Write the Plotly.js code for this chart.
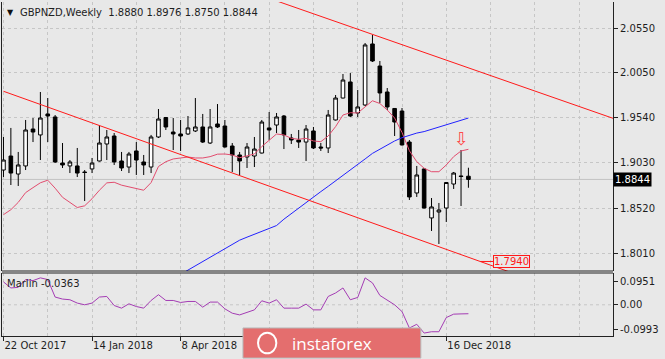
<!DOCTYPE html>
<html><head><meta charset="utf-8">
<script src="https://cdn.plot.ly/plotly-3.0.1.min.js"></script>
<style>html,body{margin:0;padding:0;background:#e8e8e8;}#chart{width:665px;height:359px;}</style>
</head><body><div id="chart"></div>
<script>
const symbol = "GBPNZD";
const period = "Weekly";

// weekly candles, week 0 = 22 Oct 2017
const opens  = [1.8950,1.9108,1.8905,1.8996,1.9413,1.9346,1.9583,1.9549,1.9029,1.8996,
                1.8996,1.8928,1.8962,1.9052,1.9244,1.9334,1.9052,1.8984,1.9165,1.9041,
                1.8984,1.9323,1.9543,1.9379,1.9357,1.9357,1.9391,1.9436,1.9255,1.9470,
                1.9447,1.9221,1.9120,1.9097,1.9108,1.9142,1.9425,1.9458,1.9560,1.9312,
                1.9289,1.9266,1.9391,1.9210,1.9199,1.9515,1.9763,1.9944,1.9594,1.9684,
                2.0373,2.0124,1.9831,1.9645,1.9616,1.9266,1.8691,1.8962,1.8409,1.8476,
                1.8521,1.8792,1.8883,1.8880];
const highs  = [1.9323,1.9425,1.9154,1.9515,1.9537,1.9831,1.9763,1.9571,1.9255,1.9063,
                1.9199,1.8950,1.9086,1.9458,1.9402,1.9368,1.9154,1.9154,1.9266,1.9120,
                1.9346,1.9639,1.9549,1.9537,1.9515,1.9560,1.9763,1.9583,1.9639,1.9695,
                1.9515,1.9255,1.9154,1.9255,1.9323,1.9515,1.9605,1.9594,1.9571,1.9357,
                1.9402,1.9458,1.9436,1.9255,1.9628,1.9797,2.0034,2.0045,1.9854,2.0384,
                2.0474,2.0181,1.9876,1.9650,1.9650,1.9289,1.8996,1.8973,1.8634,1.8578,
                1.8815,1.8928,1.9176,1.8976];
const lows   = [1.8871,1.8781,1.8770,1.8950,1.9266,1.9063,1.9266,1.9029,1.8973,1.8916,
                1.8871,1.8600,1.8916,1.9046,1.9063,1.9007,1.8939,1.8916,1.8894,1.8894,
                1.8916,1.9312,1.9402,1.9176,1.9165,1.9346,1.9379,1.9255,1.9244,1.9425,
                1.9204,1.8928,1.8894,1.8973,1.8984,1.9137,1.9289,1.9368,1.9187,1.9244,
                1.9199,1.9052,1.9187,1.9165,1.9142,1.9509,1.9758,1.9549,1.9549,1.9673,
                2.0170,1.9707,1.9628,1.9334,1.9227,1.8612,1.8646,1.8516,1.8262,1.8115,
                1.8363,1.8736,1.8544,1.8750];
const closes = [1.9063,1.8916,1.9007,1.9402,1.9379,1.9537,1.9560,1.9041,1.9007,1.9041,
                1.8916,1.8922,1.9029,1.9255,1.9323,1.9041,1.8973,1.9131,1.9063,1.9007,
                1.9323,1.9526,1.9436,1.9357,1.9334,1.9425,1.9436,1.9266,1.9436,1.9436,
                1.9210,1.9120,1.9052,1.9210,1.9187,1.9492,1.9402,1.9549,1.9346,1.9289,
                1.9266,1.9413,1.9199,1.9199,1.9571,1.9763,1.9966,1.9560,1.9662,2.0362,
                2.0181,1.9820,1.9662,1.9492,1.9233,1.8646,1.8894,1.8521,1.8533,1.8499,
                1.8809,1.8916,1.8877,1.8844];

// fast moving average (pink)
const maFast = [1.8446,1.8502,1.8585,1.8695,1.8751,1.8806,1.8835,1.8745,1.8642,1.8582,
                1.8527,1.8546,1.8626,1.8722,1.8805,1.8812,1.8779,1.8760,1.8743,1.8722,
                1.8808,1.8990,1.9044,1.9075,1.9086,1.9097,1.9086,1.9086,1.9101,1.9129,
                1.9131,1.9120,1.9089,1.9108,1.9131,1.9215,1.9289,1.9357,1.9346,1.9308,
                1.9297,1.9308,1.9278,1.9270,1.9334,1.9440,1.9571,1.9597,1.9594,1.9664,
                1.9732,1.9701,1.9628,1.9537,1.9374,1.9168,1.9044,1.8970,1.8931,1.8931,
                1.9007,1.9101,1.9165,1.9184];
// slow moving average (blue), starts at week 24
const maSlowStart = 24;
const maSlow = [1.7772,1.7821,1.7869,1.7916,1.7965,1.8013,1.8062,1.8110,1.8158,1.8192,
                1.8224,1.8257,1.8290,1.8323,1.8395,1.8459,1.8520,1.8581,1.8644,1.8706,
                1.8766,1.8826,1.8886,1.8949,1.9011,1.9075,1.9138,1.9187,1.9233,1.9278,
                1.9315,1.9341,1.9367,1.9384,1.9409,1.9435,1.9461,1.9487,1.9511,1.9537];
// Marlin oscillator
const marlin = [0.0933,0.0686,0.0711,0.1028,0.0986,0.1097,0.1028,0.0316,0.0234,0.0206,
                0.0070,0.0000,0.0070,0.0316,0.0341,-0.0029,-0.0136,0.0041,-0.0070,-0.0136,
                0.0177,0.0411,0.0177,0.0177,0.0095,0.0136,0.0136,-0.0095,0.0111,0.0111,
                -0.0164,-0.0341,-0.0411,-0.0316,-0.0206,0.0164,0.0070,0.0206,-0.0136,-0.0136,
                -0.0136,0.0029,-0.0206,-0.0206,0.0341,0.0481,0.0686,0.0206,0.0300,0.1097,
                0.0892,0.0382,0.0206,0.0000,-0.0275,-0.0945,-0.0793,-0.1151,-0.1097,-0.1097,
                -0.0520,-0.0380,-0.0370,-0.0363];

// trend lines (week, price) anchors
const trendUpperX = [30, 83];
const trendUpperY = [2.1063, 1.9522];
const trendLowerX = [0, 70];
const trendLowerY = [1.9839, 1.7757];
const trendLowerLabel = "1.7940";
const trendLowerLabelWeek = 64.6;
const signalWeek = 62;

// axes
const tickWeeks = [0, 12, 24, 60];
const tickLabels = ["22 Oct 2017", "14 Jan 2018", "8 Apr 2018", "16 Dec 2018"];
const gridWeeks = [6, 18, 30, 36, 42, 48, 54, 66, 72, 78];
const priceTicks = [2.0550, 2.0050, 1.9540, 1.9030, 1.8520, 1.8010];
const priceTickText = ["2.0550", "2.0050", "1.9540", "1.9030", "1.8520", "1.8010"];
const marlinTicks = [0.0951, 0, -0.0993];
const marlinTickText = ["0.0951", "0.00", "-0.0993"];

const weeks = closes.map((_, i) => i);
const slowWeeks = maSlow.map((_, i) => i + maSlowStart);
const last = closes.length - 1;
const f4 = v => v.toFixed(4);
const lowerAt = w => trendLowerY[0] + (w - trendLowerX[0]) * (trendLowerY[1] - trendLowerY[0]) / (trendLowerX[1] - trendLowerX[0]);

const FONT = 'DejaVu Sans';
const TXT = '#1e1e1e';
const GRID = '#c6c6c6';
const DASH = '3px,3px';
const BG = '#e8e8e8';

const traces = [
  {type:'candlestick', x:weeks, open:opens, high:highs, low:lows, close:closes,
   xaxis:'x', yaxis:'y', whiskerwidth:0, hoverinfo:'skip',
   increasing:{line:{color:'#000000', width:1}, fillcolor:'#ffffff'},
   decreasing:{line:{color:'#000000', width:1}, fillcolor:'#000000'}},
  {type:'scatter', mode:'lines', x:weeks, y:maFast, xaxis:'x', yaxis:'y',
   line:{color:'#e24c6e', width:1}, hoverinfo:'skip'},
  {type:'scatter', mode:'lines', x:slowWeeks, y:maSlow, xaxis:'x', yaxis:'y',
   line:{color:'#2222ff', width:1}, hoverinfo:'skip'},
  {type:'scatter', mode:'lines', x:trendUpperX, y:trendUpperY, xaxis:'x', yaxis:'y',
   line:{color:'#ff1a1a', width:1}, hoverinfo:'skip'},
  {type:'scatter', mode:'lines', x:trendLowerX, y:trendLowerY, xaxis:'x', yaxis:'y',
   line:{color:'#ff1a1a', width:1}, hoverinfo:'skip'},
  {type:'scatter', mode:'lines', x:weeks, y:marlin, xaxis:'x', yaxis:'y2',
   line:{color:'#a43cb4', width:1}, hoverinfo:'skip'}
];

const axFont = {family:FONT, size:10, color:TXT};
const layout = {
  width:665, height:359,
  margin:{l:2, r:52, t:2, b:23},
  paper_bgcolor:BG, plot_bgcolor:BG,
  showlegend:false, hovermode:false,
  xaxis:{range:[-0.2, 82.59], anchor:'y2', tickmode:'array', tickvals:tickWeeks, ticktext:tickLabels,
         ticks:'outside', ticklen:4, tickcolor:'#222', ticklabelposition:'outside right',
         showgrid:true, gridcolor:GRID, griddash:DASH, gridwidth:1,
         minor:{tickmode:'array', tickvals:gridWeeks, showgrid:true, gridcolor:GRID, griddash:DASH, gridwidth:1, ticks:''},
         showline:true, linecolor:'#222', linewidth:1, zeroline:false,
         rangeslider:{visible:false}, tickfont:axFont, fixedrange:true},
  yaxis:{domain:[0.1946, 1], range:[1.7810, 2.0847], side:'right', tickmode:'array',
         tickvals:priceTicks, ticktext:priceTickText, ticks:'outside', ticklen:4, tickcolor:'#222',
         showgrid:true, gridcolor:GRID, griddash:DASH, gridwidth:1,
         showline:true, linecolor:'#222', linewidth:1, mirror:true, zeroline:false,
         tickfont:axFont, fixedrange:true},
  yaxis2:{domain:[0, 0.1886], range:[-0.1270, 0.1295], side:'right', tickmode:'array',
         tickvals:marlinTicks, ticktext:marlinTickText, ticks:'outside', ticklen:4, tickcolor:'#222',
         showgrid:false, showline:true, linecolor:'#222', linewidth:1, mirror:true, zeroline:false,
         tickfont:axFont, fixedrange:true},
  shapes:[
    {type:'line', xref:'paper', x0:0, x1:1, yref:'y', y0:closes[last], y1:closes[last],
     line:{color:'#c2c2c2', width:1}, layer:'below'},
    {type:'line', xref:'paper', x0:0, x1:1, yref:'y2', y0:0, y1:0,
     line:{color:GRID, width:1, dash:DASH}, layer:'below'},
    {type:'line', xref:'paper', x0:0, x1:1, yref:'y domain', y0:0, y1:0,
     line:{color:'#222', width:1}},
    {type:'line', xref:'paper', x0:0, x1:1, yref:'y2 domain', y0:1, y1:1,
     line:{color:'#222', width:1}},
    // watermark
    {type:'rect', xref:'paper', yref:'paper', x0:0.3944, x1:0.6855, y0:-0.066, y1:0.024,
     fillcolor:'#e46e6e', line:{color:'#b8b8b8', width:1}, layer:'above'},
    {type:'circle', xref:'paper', yref:'paper', x0:0.4190, x1:0.4490, y0:-0.052, y1:0.010,
     fillcolor:'rgba(0,0,0,0)', line:{color:'#ffffff', width:2}, layer:'above'}
  ],
  annotations:[
    {xref:'paper', yref:'paper', x:0.0131, y:0.970, xanchor:'center', yanchor:'middle',
     text:'▼', showarrow:false, font:{family:FONT, size:8, color:'#111'}},
    {xref:'paper', yref:'paper', x:0.0278, y:0.970, xanchor:'left', yanchor:'middle',
     text:symbol + ',' + period + '  ' + f4(opens[last]) + ' ' + f4(highs[last]) + ' ' + f4(lows[last]) + ' ' + f4(closes[last]),
     showarrow:false, font:{family:FONT, size:10, color:TXT}, borderpad:0},
    {xref:'paper', yref:'paper', x:0.0065, y:0.157, xanchor:'left', yanchor:'middle',
     text:'Marlin ' + f4(marlin[last]), showarrow:false, font:{family:FONT, size:10, color:TXT}, borderpad:0},
    {xref:'paper', yref:'y', x:1, y:closes[last], xanchor:'left', yanchor:'middle', xshift:0,
     text:f4(closes[last]), showarrow:false, bgcolor:'#000000', borderpad:1,
     font:{family:FONT, size:10, color:'#ffffff'}},
    {xref:'x', yref:'y', x:trendLowerLabelWeek, y:lowerAt(trendLowerLabelWeek), ax:31, ay:0,
     text:trendLowerLabel, showarrow:true, arrowhead:0, arrowwidth:1, arrowcolor:'#ff1a1a',
     bgcolor:BG, bordercolor:'#ff1a1a', borderwidth:1, borderpad:0,
     font:{family:FONT, size:10, color:'#ff1a1a'}},
    {xref:'x', yref:'y', x:signalWeek, y:highs[signalWeek] + 0.0135, xanchor:'center', yanchor:'middle',
     text:'⇩', showarrow:false, font:{family:FONT, size:18, color:'#ff4a4a'}},
    {xref:'paper', yref:'paper', x:0.5401, y:-0.021, xanchor:'center', yanchor:'middle',
     text:'instaforex', showarrow:false, font:{family:'Open Sans', size:17, color:'#ffffff'}}
  ]
};

Plotly.newPlot('chart', traces, layout, {displayModeBar:false, staticPlot:true});
</script>
</body></html>
